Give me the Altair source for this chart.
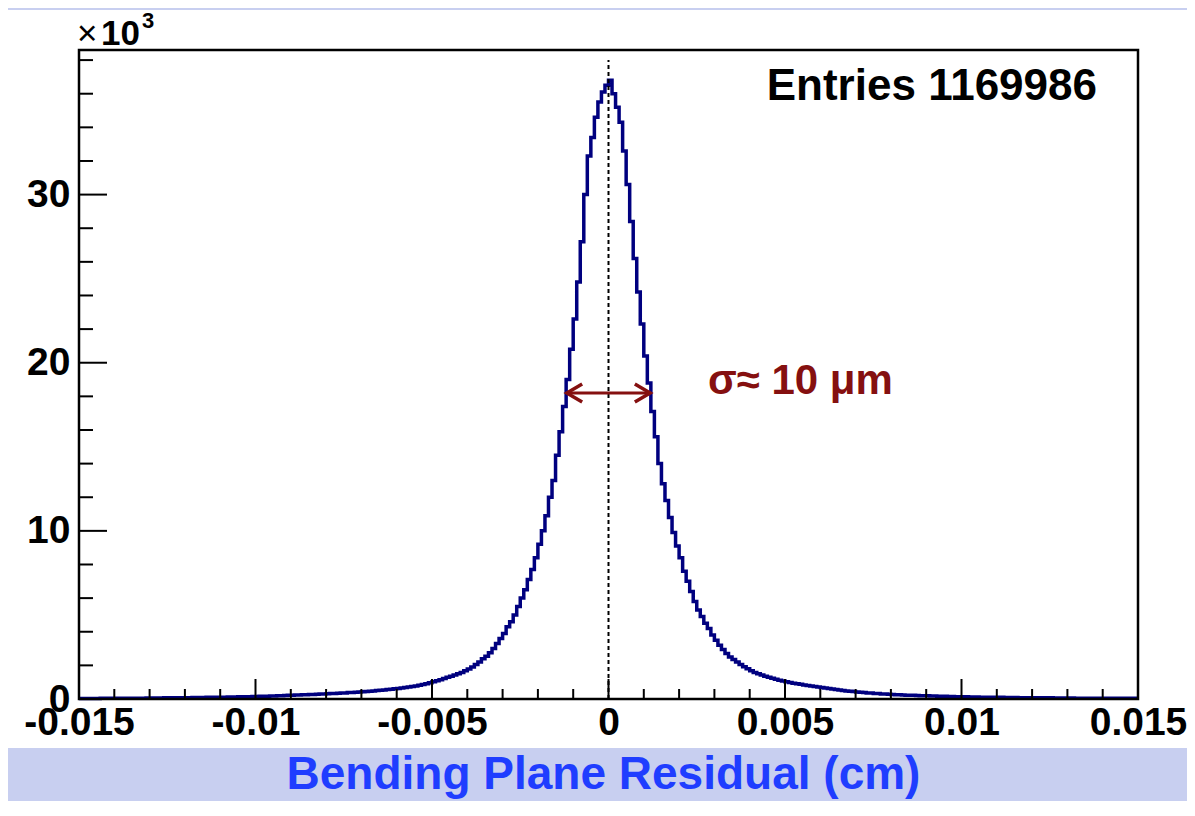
import altair as alt
import pandas as pd

# ---------------- data ----------------
X_MIN, X_MAX = -0.015, 0.015
BIN_WIDTH = 0.0001  # 300 bins of 1 um
Y_MAX = 38.6        # axis top, in units of 10^3

counts_k = [
    0.03, 0.03, 0.03, 0.03, 0.03, 0.03, 0.04, 0.04, 0.04, 0.04,
    0.04, 0.04, 0.04, 0.05, 0.05, 0.05, 0.05, 0.05, 0.05, 0.06,
    0.06, 0.06, 0.06, 0.06, 0.07, 0.07, 0.07, 0.07, 0.08, 0.08,
    0.08, 0.08, 0.09, 0.09, 0.09, 0.09, 0.10, 0.10, 0.10, 0.11,
    0.11, 0.11, 0.12, 0.12, 0.12, 0.13, 0.13, 0.14, 0.14, 0.15,
    0.15, 0.16, 0.16, 0.17, 0.18, 0.18, 0.19, 0.20, 0.21, 0.22,
    0.23, 0.24, 0.24, 0.25, 0.26, 0.27, 0.27, 0.28, 0.29, 0.30,
    0.31, 0.32, 0.33, 0.34, 0.35, 0.36, 0.38, 0.39, 0.40, 0.42,
    0.43, 0.45, 0.46, 0.48, 0.50, 0.52, 0.54, 0.56, 0.58, 0.61,
    0.63, 0.66, 0.69, 0.72, 0.75, 0.78, 0.82, 0.86, 0.91, 0.96,
    1.02, 1.08, 1.15, 1.22, 1.30, 1.36, 1.43, 1.50, 1.58, 1.68,
    1.78, 1.90, 2.05, 2.20, 2.40, 2.55, 2.75, 3.00, 3.30, 3.60,
    3.90, 4.30, 4.60, 5.00, 5.50, 6.00, 6.50, 7.10, 7.70, 8.40,
    9.20, 10.00, 10.90, 12.00, 13.00, 14.50, 15.90, 17.40, 19.00, 20.80,
    22.60, 24.80, 27.20, 30.00, 32.30, 33.40, 34.60, 35.50, 36.10, 36.50,
    36.80, 36.00, 35.20, 34.30, 32.60, 30.60, 28.40, 26.20, 24.20, 22.30,
    20.40, 18.80, 17.10, 15.60, 14.00, 12.80, 11.80, 10.80, 9.90, 9.10,
    8.40, 7.60, 7.00, 6.40, 5.80, 5.30, 4.90, 4.50, 4.20, 3.80,
    3.50, 3.20, 2.95, 2.70, 2.50, 2.35, 2.20, 2.05, 1.92, 1.80,
    1.68, 1.58, 1.50, 1.43, 1.36, 1.29, 1.23, 1.17, 1.12, 1.07,
    1.02, 0.98, 0.94, 0.90, 0.87, 0.84, 0.81, 0.78, 0.75, 0.72,
    0.69, 0.66, 0.63, 0.60, 0.57, 0.54, 0.51, 0.48, 0.46, 0.44,
    0.42, 0.40, 0.38, 0.36, 0.35, 0.33, 0.32, 0.30, 0.29, 0.28,
    0.27, 0.26, 0.25, 0.24, 0.23, 0.23, 0.22, 0.21, 0.20, 0.20,
    0.19, 0.18, 0.18, 0.17, 0.16, 0.16, 0.15, 0.15, 0.14, 0.14,
    0.13, 0.13, 0.12, 0.12, 0.12, 0.11, 0.11, 0.11, 0.10, 0.10,
    0.10, 0.10, 0.09, 0.09, 0.09, 0.09, 0.08, 0.08, 0.08, 0.08,
    0.08, 0.07, 0.07, 0.07, 0.07, 0.07, 0.06, 0.06, 0.06, 0.06,
    0.06, 0.06, 0.05, 0.05, 0.05, 0.05, 0.05, 0.05, 0.05, 0.05,
    0.05, 0.04, 0.04, 0.04, 0.04, 0.04, 0.04, 0.04, 0.04, 0.04,
]

x_major_ticks = [-0.015, -0.01, -0.005, 0.0, 0.005, 0.01, 0.015]
x_minor_ticks = [-0.014, -0.013, -0.012, -0.011, -0.009, -0.008, -0.007, -0.006,
                 -0.004, -0.003, -0.002, -0.001, 0.001, 0.002, 0.003, 0.004,
                 0.006, 0.007, 0.008, 0.009, 0.011, 0.012, 0.013, 0.014]
y_major_ticks = [0, 10, 20, 30]
y_minor_ticks = [2, 4, 6, 8, 12, 14, 16, 18, 22, 24, 26, 28, 32, 34, 36, 38]

entries = 1169986
arrow_x = [-0.00118, 0.00118]
arrow_y = 18.2
mean_line_x = 0.0
mean_line_top = 38.0

x_title = "Bending Plane Residual (cm)"
sigma_label = "σ≈ 10 μm"

# ---------------- layout / style ----------------
W, H = 1059, 649
FONT = "Liberation Sans"
HIST_COLOR = "#00007f"
RED = "#851010"
BLUE = "#1f3dff"
BG = "#c8cff0"

n_bins = len(counts_k)
edges = [X_MIN + i * BIN_WIDTH for i in range(n_bins + 1)]
hist_df = pd.DataFrame({"x": edges, "y": counts_k + [counts_k[-1]]})

xscale = alt.Scale(domain=[X_MIN, X_MAX], nice=False, zero=False)
yscale = alt.Scale(domain=[0, Y_MAX], nice=False, zero=True)

xaxis = alt.Axis(
    values=x_major_ticks,
    labelExpr="(datum.value < 0 ? '-' : '') + format(abs(datum.value), '.3~f')",
    ticks=False, tickSize=0, domain=False, grid=False,
    labelFont=FONT, labelFontSize=39, labelFontWeight="bold", labelColor="black",
    labelPadding=4, labelFlush=False, labelOverlap=False, labelBound=False,
    title=x_title, titleFont=FONT, titleFontSize=46, titleFontWeight="bold",
    titleColor=BLUE, titleX=524, titleY=89, titleBaseline="alphabetic",
    titleAlign="center", titleAnchor="start",
    zindex=2,
)
yaxis = alt.Axis(
    values=y_major_ticks,
    ticks=False, tickSize=0, domain=False, grid=False,
    labelFont=FONT, labelFontSize=39, labelFontWeight="bold", labelColor="black",
    labelPadding=9, labelFlush=False, labelOverlap=False, labelBound=False,
    title=None, zindex=2,
)

X = lambda: alt.X("x:Q", scale=xscale, axis=xaxis)
Y = lambda: alt.Y("y:Q", scale=yscale, axis=yaxis)

one = pd.DataFrame({"a": [0]})

panel = alt.Chart(one).mark_rect(color="white").encode(
    x=alt.value(-71), x2=alt.value(W + 49), y=alt.value(-40), y2=alt.value(H + 49)
)

hist = alt.Chart(hist_df).mark_line(
    interpolate="step-after", color=HIST_COLOR, strokeWidth=3.5
).encode(x=X(), y=Y())

mean_df = pd.DataFrame({"x": [mean_line_x], "y": [0.0], "y2": [mean_line_top]})
mean_line = alt.Chart(mean_df).mark_rule(
    color="black", strokeWidth=2, strokeDash=[4, 3]
).encode(x=X(), y=Y(), y2="y2:Q")

xmaj = alt.Chart(pd.DataFrame({"x": x_major_ticks})).mark_rule(
    color="black", strokeWidth=2
).encode(x=X(), y=alt.value(H), y2=alt.value(H - 20))
xmin = alt.Chart(pd.DataFrame({"x": x_minor_ticks})).mark_rule(
    color="black", strokeWidth=2
).encode(x=X(), y=alt.value(H), y2=alt.value(H - 10))
ymaj = alt.Chart(pd.DataFrame({"y": y_major_ticks})).mark_rule(
    color="black", strokeWidth=2
).encode(y=Y(), x=alt.value(0), x2=alt.value(28))
ymin = alt.Chart(pd.DataFrame({"y": y_minor_ticks})).mark_rule(
    color="black", strokeWidth=2
).encode(y=Y(), x=alt.value(0), x2=alt.value(14))

frame = alt.Chart(one).mark_rect(
    filled=False, stroke="black", strokeWidth=2.5
).encode(x=alt.value(0), x2=alt.value(W), y=alt.value(0), y2=alt.value(H))

arrow_df = pd.DataFrame({"x": [arrow_x[0]], "x2": [arrow_x[1]], "y": [arrow_y]})
arrow = alt.Chart(arrow_df).mark_rule(color=RED, strokeWidth=3).encode(
    x=X(), x2="x2:Q", y=Y()
)
head_l = alt.Chart(pd.DataFrame({"x": [arrow_x[0]], "y": [arrow_y]})).mark_point(
    shape="M 1.7 -1 L 0 0 L 1.7 1", size=324, filled=False, color=RED,
    strokeWidth=3.5, opacity=1
).encode(x=X(), y=Y())
head_r = alt.Chart(pd.DataFrame({"x": [arrow_x[1]], "y": [arrow_y]})).mark_point(
    shape="M -1.7 -1 L 0 0 L -1.7 1", size=324, filled=False, color=RED,
    strokeWidth=3.5, opacity=1
).encode(x=X(), y=Y())

sigma_txt = alt.Chart(one).mark_text(
    text=sigma_label, font=FONT, fontSize=42, fontWeight="bold", color=RED,
    align="left", baseline="alphabetic"
).encode(x=alt.value(629), y=alt.value(344))

entries_txt = alt.Chart(one).mark_text(
    text=f"Entries {entries}", font=FONT, fontSize=44, fontWeight="bold",
    color="black", align="right", baseline="alphabetic"
).encode(x=alt.value(1018), y=alt.value(50))

times_txt = alt.Chart(one).mark_text(
    text="×", font=FONT, fontSize=35, color="black", align="left",
    baseline="alphabetic"
).encode(x=alt.value(-2), y=alt.value(-5))
ten_txt = alt.Chart(one).mark_text(
    text="10", font=FONT, fontSize=35, fontWeight="bold", color="black",
    align="left", baseline="alphabetic"
).encode(x=alt.value(22), y=alt.value(-5))
exp_txt = alt.Chart(one).mark_text(
    text="3", font=FONT, fontSize=22, fontWeight="bold", color="black",
    align="left", baseline="alphabetic"
).encode(x=alt.value(63), y=alt.value(-22))

chart = alt.layer(
    panel, hist, mean_line, xmaj, xmin, ymaj, ymin, frame, arrow, head_l, head_r,
    sigma_txt, entries_txt, times_txt, ten_txt, exp_txt
).properties(
    width=W, height=H,
    padding={"left": 71, "top": 42, "right": 49, "bottom": 102},
    autosize=alt.AutoSizeParams(type="none"),
    background=BG,
).configure_view(
    stroke="black", strokeWidth=2.5
)

chart.save("out.html", embed_options={"renderer": "svg", "actions": False})
